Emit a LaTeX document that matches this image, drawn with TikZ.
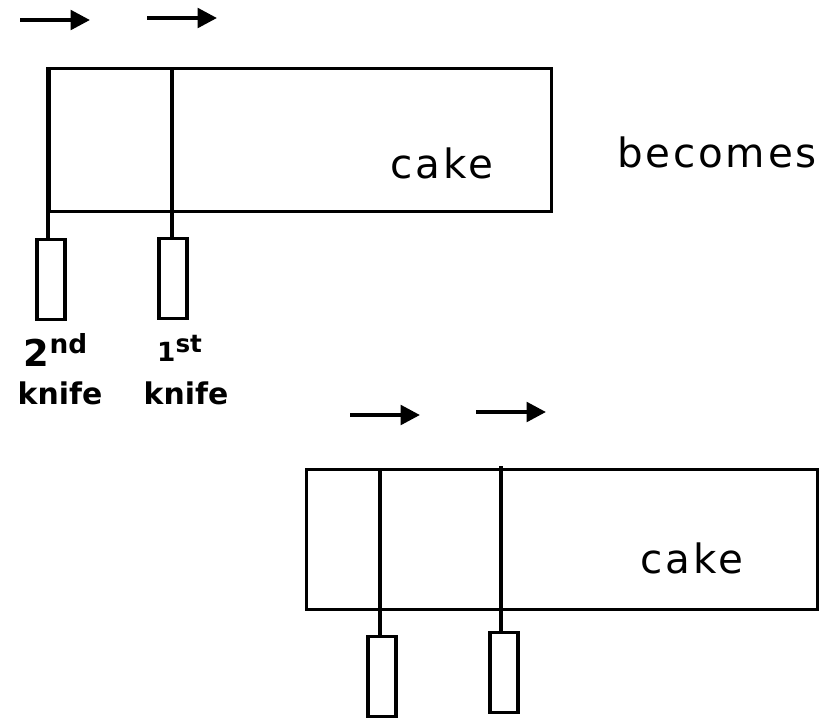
\documentclass[tikz,border=0pt]{standalone}
\usepackage{fontspec}
\setmainfont{DejaVu Sans}
\usetikzlibrary{arrows.meta,positioning}

\begin{document}
\begin{tikzpicture}[x=0.02cm, y=-0.02cm,
    knifeline/.style={draw=black, line width=2pt},
    cakebox/.style={rectangle, draw, line width=1.8pt, inner sep=0pt, anchor=north west},
    handle/.style={rectangle, draw, line width=1.8pt, inner sep=0pt, minimum width=0.56cm, minimum height=1.6cm, anchor=north},
    push/.style={draw=black, line width=2.3pt, -{Triangle[length=11pt, width=11pt]}},
    word/.style={font=\fontsize{23}{25}\selectfont\addfontfeatures{LetterSpace=7}},
    tag/.style={font=\fontsize{17}{19}\selectfont\bfseries, align=left}
]
    \useasboundingbox (0,0) rectangle (826,718);

    % Top cake with both knives
    \node[cakebox, minimum width=10.04cm, minimum height=2.86cm] (cakeA) at (48,67) {};
    \node[word] (cakeAlbl) at (442,163) {cake};
    \coordinate (k2A) at (48,67);
    \coordinate (k1A) at (172,67);
    \node[handle] (h2A) at (51,238) {};
    \node[handle] (h1A) at (173,237) {};
    \draw[knifeline] (k2A) -- (k2A |- h2A.north);
    \draw[knifeline] (k1A) -- (k1A |- h1A.north);

    % motion arrows
    \coordinate (a1s) at (20,20);  \coordinate (a1e) at (90,20);
    \coordinate (a2s) at (147,18); \coordinate (a2e) at (217,18);
    \draw[push] (a1s) -- (a1e);
    \draw[push] (a2s) -- (a2e);

    % knife labels
    \node[tag] (l2) at (56,350) {\fontsize{21}{22}\selectfont 2\textsuperscript{\fontsize{15}{16}\selectfont nd}};
    \node[tag] (l2k) at (60,393) {knife};
    \node[tag] (l1) at (180,348) {\fontsize{15}{16}\selectfont 1\textsuperscript{\fontsize{14}{16}\selectfont st}};
    \node[tag] (l1k) at (186,393) {knife};

    \node[word] (becomes) at (717,152) {becomes};

    % Bottom cake, knives moved on
    \node[cakebox, minimum width=10.22cm, minimum height=2.8cm] (cakeB) at (305,468) {};
    \node[word] (cakeBlbl) at (692,558) {cake};
    \coordinate (k2B) at (380,468);
    \coordinate (k1B) at (501,466);
    \node[handle] (h2B) at (382,635) {};
    \node[handle] (h1B) at (504,631) {};
    \draw[knifeline] (k2B) -- (k2B |- h2B.north);
    \draw[knifeline] (k1B) -- (k1B |- h1B.north);

    \coordinate (b1s) at (350,415); \coordinate (b1e) at (420,415);
    \coordinate (b2s) at (476,412); \coordinate (b2e) at (546,412);
    \draw[push] (b1s) -- (b1e);
    \draw[push] (b2s) -- (b2e);
\end{tikzpicture}
\end{document}
